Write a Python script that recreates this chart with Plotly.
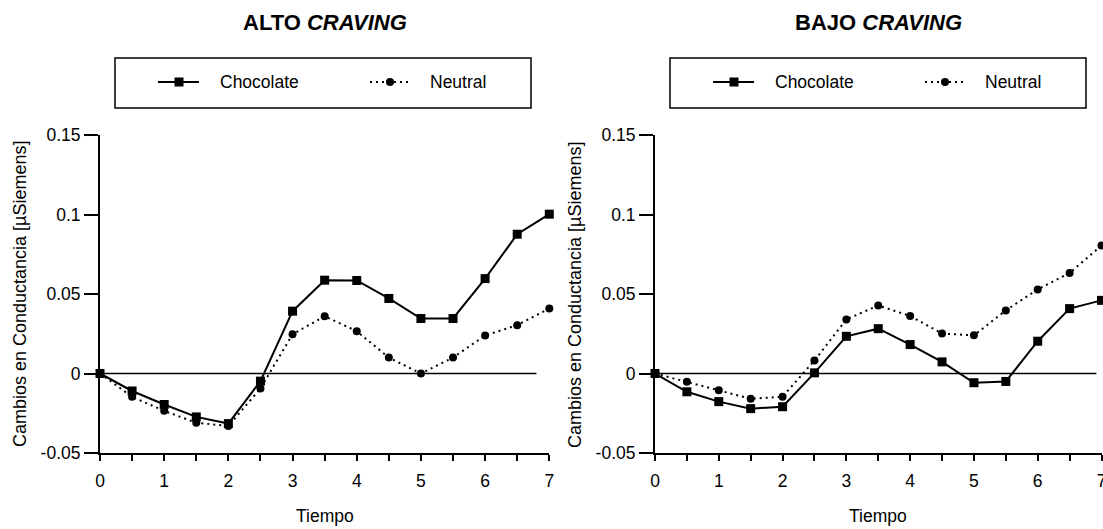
import plotly.graph_objects as go

W, H = 1103, 529

tiempo = [0, 0.5, 1, 1.5, 2, 2.5, 3, 3.5, 4, 4.5, 5, 5.5, 6, 6.5, 7]

alto_chocolate = [0.0, -0.011, -0.0195, -0.0273, -0.0315, -0.0048, 0.0392, 0.0587,
                  0.0585, 0.0472, 0.0346, 0.0346, 0.0597, 0.0876, 0.1002]
alto_neutral = [0.0, -0.0147, -0.0235, -0.031, -0.033, -0.0094, 0.0247, 0.036,
                0.0266, 0.010, 0.0, 0.010, 0.0239, 0.0304, 0.0409]

bajo_chocolate = [0.0, -0.0115, -0.0177, -0.0221, -0.0209, 0.0004, 0.0234, 0.0282,
                  0.0182, 0.0073, -0.0058, -0.005, 0.0203, 0.0408, 0.046]
bajo_neutral = [0.0, -0.0052, -0.0105, -0.0159, -0.0146, 0.0082, 0.034, 0.0428,
                0.0362, 0.0251, 0.024, 0.0397, 0.0529, 0.0632, 0.0805]

x_tickvals = [0, 0.5, 1, 1.5, 2, 2.5, 3, 3.5, 4, 4.5, 5, 5.5, 6, 6.5, 7]
x_ticktext = ["0", "", "1", "", "2", "", "3", "", "4", "", "5", "", "6", "", "7"]
y_tickvals = [-0.05, 0, 0.05, 0.1, 0.15]
y_ticktext = ["-0.05", "0", "0.05", "0.1", "0.15"]

titles = ["<b>ALTO <i>CRAVING</i></b>", "<b>BAJO <i>CRAVING</i></b>"]
series_names = ["Chocolate", "Neutral"]
x_title = "Tiempo"
y_title = "Cambios en Conductancia [µSiemens]"

FONT = "Liberation Sans, Arial, sans-serif"

fig = go.Figure()

panels = [
    (alto_chocolate, alto_neutral, "x", "y"),
    (bajo_chocolate, bajo_neutral, "x2", "y2"),
]
for choc, neut, xa, ya in panels:
    fig.add_trace(go.Scatter(
        x=tiempo, y=neut, xaxis=xa, yaxis=ya, mode="lines+markers",
        name=series_names[1], showlegend=False, cliponaxis=False,
        line=dict(color="black", width=2, dash="2px,4px"),
        marker=dict(symbol="circle", size=8, color="black"),
    ))
    fig.add_trace(go.Scatter(
        x=tiempo, y=choc, xaxis=xa, yaxis=ya, mode="lines+markers",
        name=series_names[0], showlegend=False, cliponaxis=False,
        line=dict(color="black", width=2),
        marker=dict(symbol="square", size=9, color="black"),
    ))

def px(x):
    return x / W

def py(y):
    return 1 - y / H

xdoms = [[100 / W, 549.3 / W], [655 / W, 1101.5 / W]]
ydom = [1 - 453 / H, 1 - 135 / H]

axis_common = dict(
    showgrid=False, zeroline=False, showline=True, linecolor="black",
    linewidth=2, ticks="outside", tickcolor="black", tickwidth=1.5,
    automargin=False, ticklabeloverflow="allow",
    tickfont=dict(family=FONT, size=17.5, color="black"),
)

fig.update_layout(
    template="none",
    width=W, height=H, autosize=False, margin=dict(l=0, r=0, t=0, b=0, pad=0),
    paper_bgcolor="white", plot_bgcolor="white", showlegend=False,
    font=dict(family=FONT, color="black"),
)

for i, (xa, ya) in enumerate([("xaxis", "yaxis"), ("xaxis2", "yaxis2")]):
    anchor_y = "y" if i == 0 else "y2"
    anchor_x = "x" if i == 0 else "x2"
    fig.update_layout(**{
        xa: dict(axis_common, domain=xdoms[i], range=[0, 7], anchor=anchor_y,
                 tickvals=x_tickvals, ticktext=x_ticktext, ticklen=6,
                 ticklabelstandoff=5),
        ya: dict(axis_common, domain=ydom, range=[-0.05, 0.15], anchor=anchor_x,
                 tickvals=y_tickvals, ticktext=y_ticktext, ticklen=14),
    })

shapes = []
annotations = []
shapes.append(dict(type="line", xref="x", yref="y", x0=0, x1=6.8, y0=0, y1=0,
                   line=dict(color="black", width=1.5)))
shapes.append(dict(type="line", xref="x2", yref="y2", x0=0, x1=6.92, y0=0, y1=0,
                   line=dict(color="black", width=1.5)))

centers = [(100 + 549.3) / 2, (655 + 1101.5) / 2]
ytitle_x = [20, 575]
for i in range(2):
    annotations.append(dict(text=titles[i], xref="paper", yref="paper",
                            x=px(centers[i]), y=py(23), showarrow=False,
                            xanchor="center", yanchor="middle",
                            font=dict(family=FONT, size=22, color="black")))
    annotations.append(dict(text=x_title, xref="paper", yref="paper",
                            x=px(centers[i]), y=py(516), showarrow=False,
                            xanchor="center", yanchor="middle",
                            font=dict(family=FONT, size=17.5, color="black")))
    annotations.append(dict(text=y_title, xref="paper", yref="paper",
                            x=px(ytitle_x[i]), y=py(294), showarrow=False,
                            textangle=-90, xanchor="center", yanchor="middle",
                            font=dict(family=FONT, size=18, color="black")))

    off = 0 if i == 0 else 555
    shapes.append(dict(type="rect", xref="paper", yref="paper",
                       x0=px(115 + off), x1=px(531 + off), y0=py(108), y1=py(58),
                       line=dict(color="black", width=1.5)))
    ly = 82
    shapes.append(dict(type="line", xref="paper", yref="paper",
                       x0=px(158 + off), x1=px(199 + off), y0=py(ly), y1=py(ly),
                       line=dict(color="black", width=2)))
    shapes.append(dict(type="rect", xref="paper", yref="paper",
                       x0=px(174.5 + off), x1=px(183.5 + off), y0=py(ly + 4.5), y1=py(ly - 4.5),
                       fillcolor="black", line=dict(width=0)))
    annotations.append(dict(text=series_names[0], xref="paper", yref="paper",
                            x=px(218 + off), y=py(ly), showarrow=False,
                            xanchor="left", yanchor="middle",
                            font=dict(family=FONT, size=17.5, color="black")))
    shapes.append(dict(type="line", xref="paper", yref="paper",
                       x0=px(370 + off), x1=px(411 + off), y0=py(ly), y1=py(ly),
                       line=dict(color="black", width=2, dash="2px,4px")))
    shapes.append(dict(type="circle", xref="paper", yref="paper",
                       x0=px(386 + off), x1=px(394 + off), y0=py(ly + 4), y1=py(ly - 4),
                       fillcolor="black", line=dict(width=0)))
    annotations.append(dict(text=series_names[1], xref="paper", yref="paper",
                            x=px(428 + off), y=py(ly), showarrow=False,
                            xanchor="left", yanchor="middle",
                            font=dict(family=FONT, size=17.5, color="black")))

fig.update_layout(shapes=shapes, annotations=annotations)

fig.write_html("out.html",
               post_script="document.body.style.margin='0';document.body.style.overflow='hidden';")
